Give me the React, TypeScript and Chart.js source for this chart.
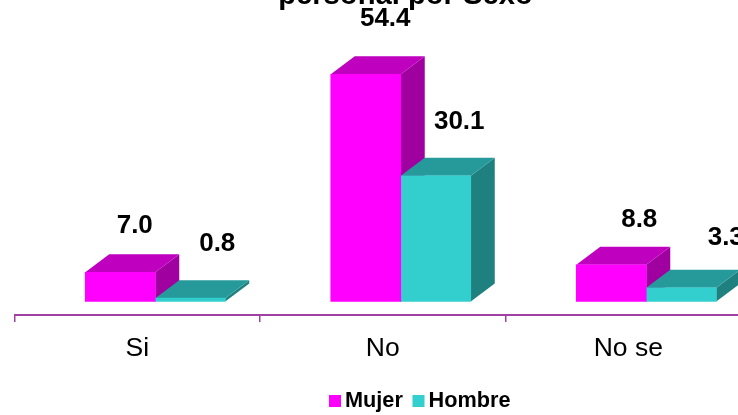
import React, { useEffect, useRef } from "react";
import { Chart, registerables } from "chart.js";

Chart.register(...registerables);

const categories = ["Si", "No", "No se"];
const mujer = [7.0, 54.4, 8.8];
const hombre = [0.8, 30.1, 3.3];
const titleText = "personal por Sexo";

const FONT = '"Liberation Sans", Arial, sans-serif';
const CANVAS_W = 760;
const CANVAS_H = 445;
const CANVAS_TOP = -30;

const DEPTH_X = 24;
const DEPTH_Y = 18;
const GROUP_SHIFT = 18;
const TITLE_SHIFT = -0.5 * (760 + 14.5 - 9) + 405.5;

const faces = [
  { front: "#FF00FF", top: "#BF00BF", side: "#A000A0" },
  { front: "#33CFCF", top: "#269A9A", side: "#1F8080" },
];

// Hand-placed label offsets from the front-top corner centre of each bar.
const labelOffsetX = [
  [14.5, 19.5, 28],
  [27, 23.5, 44.5],
];
const labelOffsetY = [
  [-46.5, -55, -44.7],
  [-54.5, -53.7, -49.5],
];

const poly = (ctx: CanvasRenderingContext2D, pts: number[][], fill: string) => {
  ctx.beginPath();
  pts.forEach(([x, y], i) => (i ? ctx.lineTo(x, y) : ctx.moveTo(x, y)));
  ctx.closePath();
  ctx.fillStyle = fill;
  ctx.fill();
};

// Extruded sides and tops, plus value labels and the compact legend.
const extrudePlugin = {
  id: "extrude",
  afterLayout(chart: any) {
    chart.titleBlock.left += TITLE_SHIFT;
    chart.titleBlock.right += TITLE_SHIFT;
  },
  afterDatasetsUpdate(chart: any) {
    chart.data.datasets.forEach((_: any, i: number) => {
      chart.getDatasetMeta(i).data.forEach((el: any) => {
        el.x += GROUP_SHIFT;
      });
    });
  },
  beforeDatasetsDraw(chart: any) {
    const ctx = chart.ctx;
    chart.data.datasets.forEach((_: any, i: number) => {
      chart.getDatasetMeta(i).data.forEach((el: any) => {
        const left = el.x - el.width / 2;
        const right = el.x + el.width / 2;
        const top = el.y;
        const base = el.base;
        poly(
          ctx,
          [
            [right, top],
            [right + DEPTH_X, top - DEPTH_Y],
            [right + DEPTH_X, base - DEPTH_Y],
            [right, base],
          ],
          faces[i].side
        );
        poly(
          ctx,
          [
            [left, top],
            [left + DEPTH_X, top - DEPTH_Y],
            [right + DEPTH_X, top - DEPTH_Y],
            [right, top],
          ],
          faces[i].top
        );
      });
    });
  },
  afterDraw(chart: any) {
    const ctx = chart.ctx;
    ctx.save();
    ctx.fillStyle = "#000000";
    ctx.font = `bold 26px ${FONT}`;
    ctx.textAlign = "center";
    ctx.textBaseline = "middle";
    chart.data.datasets.forEach((ds: any, i: number) => {
      chart.getDatasetMeta(i).data.forEach((el: any, j: number) => {
        ctx.fillText(
          ds.data[j].toFixed(1),
          el.x + labelOffsetX[i][j],
          el.y + labelOffsetY[i][j]
        );
      });
    });

    const boxY = 395 - CANVAS_TOP;
    const starts = [329, 412.5];
    ctx.font = `bold 21.7px ${FONT}`;
    ctx.textAlign = "left";
    chart.data.datasets.forEach((ds: any, i: number) => {
      ctx.fillStyle = ds.backgroundColor;
      ctx.fillRect(starts[i], boxY, 12, 12);
      ctx.fillStyle = "#000000";
      ctx.fillText(ds.label, starts[i] + 16, boxY + 6.5);
    });
    ctx.restore();
  },
};

export default function App() {
  const ref = useRef<HTMLCanvasElement>(null);

  useEffect(() => {
    const chart = new Chart(ref.current as HTMLCanvasElement, {
      type: "bar",
      data: {
        labels: categories,
        datasets: [
          { label: "Mujer", data: mujer, backgroundColor: faces[0].front, barThickness: 70 },
          { label: "Hombre", data: hombre, backgroundColor: faces[1].front, barThickness: 70 },
        ],
      },
      options: {
        animation: false,
        responsive: false,
        devicePixelRatio: 1,
        layout: { padding: { left: 14.5, right: 9, top: 0, bottom: 0 } },
        plugins: {
          legend: { display: false },
          tooltip: { enabled: false },
          title: {
            display: true,
            text: titleText,
            color: "#000000",
            font: { family: FONT, size: 29.2, weight: "bold" },
            padding: { top: 8.6, bottom: 0 },
          },
        },
        scales: {
          x: {
            afterFit: (scale: any) => {
              scale.height = 100;
            },
            border: { display: true, color: "#A040A0", width: 2 },
            grid: {
              display: true,
              drawOnChartArea: false,
              drawTicks: true,
              tickLength: 7,
              color: "#A040A0",
              lineWidth: 1.5,
            },
            ticks: {
              color: "#000000",
              font: { family: FONT, size: 26.5 },
              padding: 11,
              autoSkip: false,
              maxRotation: 0,
              minRotation: 0,
            },
          },
          y: { display: false, min: -3.23, max: 68.92 },
        },
      },
      plugins: [extrudePlugin],
    } as any);
    return () => chart.destroy();
  }, []);

  return (
    <div
      style={{
        position: "fixed",
        left: 0,
        top: 0,
        width: 738,
        height: 415,
        overflow: "hidden",
        background: "#ffffff",
      }}
    >
      <canvas
        ref={ref}
        width={CANVAS_W}
        height={CANVAS_H}
        style={{ position: "absolute", left: 0, top: CANVAS_TOP }}
      />
    </div>
  );
}
